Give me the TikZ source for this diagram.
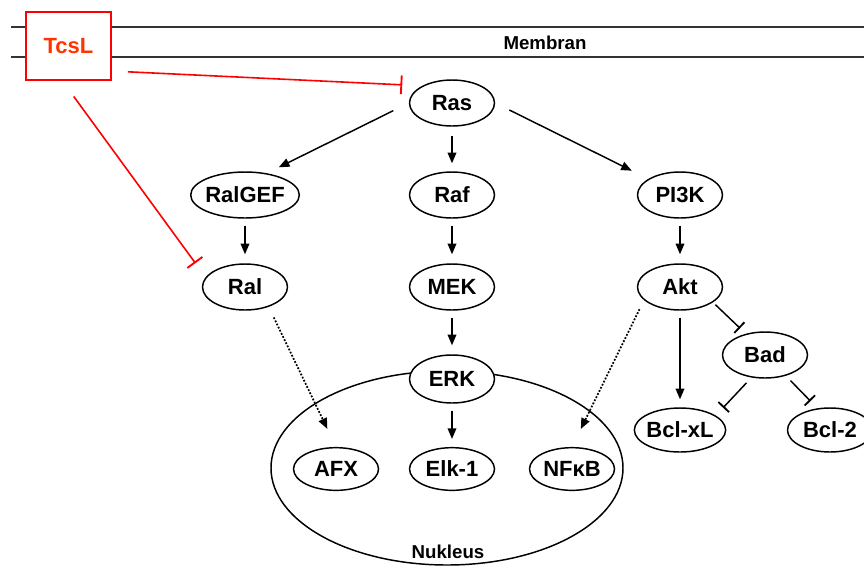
\documentclass[tikz,border=0pt]{standalone}
\usepackage{fontspec}
\setmainfont{Liberation Sans}
\usetikzlibrary{shapes.geometric,arrows.meta}

\definecolor{tcsred}{RGB}{255,0,0}
\definecolor{tcstext}{RGB}{255,51,0}

\begin{document}
\begin{tikzpicture}[x=0.75pt,y=-0.75pt,
  prot/.style={draw,ellipse,fill=white,line width=1.1pt,inner xsep=-1pt,inner ysep=0pt,
    minimum width=63.75pt,minimum height=34.5pt,font=\fontsize{16.5}{19}\selectfont\bfseries},
  act/.style={line width=1.1pt,-{Triangle[length=8pt,width=6.5pt]}},
  weak/.style={act,line width=1.3pt,dash pattern=on 1.3pt off 1.3pt},
  inh/.style={line width=1.1pt,-{Bar[width=11pt,line width=1.4pt]}},
  toxin/.style={line width=1.2pt,draw=tcsred,-{Bar[width=14pt,line width=1.4pt]}},
  lbl/.style={font=\fontsize{14}{17}\selectfont\bfseries}]
\useasboundingbox (0,0) rectangle (864,565);

\draw [line width=0.8pt,black!80] (11,27) -- (864,27);

\draw [line width=0.8pt,black!80] (11,57) -- (864,57);

\node [lbl] at (545,43) (membran) {Membran};

\node [draw=tcsred,line width=1.3pt,fill=white,minimum width=63.75pt,minimum height=51pt,
  text=tcstext,font=\fontsize{16.5}{19}\selectfont\bfseries] at (68.5,46) (tcsl) {TcsL};

\node [draw,ellipse,line width=1.1pt,minimum width=264pt,minimum height=145.5pt] at (447,468) (nucleus) {};

\node [lbl] at (448,552) (nukleus) {Nukleus};

\node [prot] at (452,103) (ras) {Ras};

\node [prot,minimum width=78pt] at (245,195) (ralgef) {RalGEF};
\node [prot] at (452,195) (raf) {Raf};
\node [prot] at (680,195) (pi3k) {PI3K};

\node [prot] at (245,287) (ral) {Ral};
\node [prot] at (452,287) (mek) {MEK};
\node [prot] at (680,287) (akt) {Akt};

\node [prot,minimum height=36pt] at (452,379) (erk) {ERK};
\node [prot] at (765,355) (bad) {Bad};

\node [prot,minimum height=33pt] at (680,430) (bclxl) {Bcl-xL};
\node [prot,minimum height=33pt] at (830,430) (bcltwo) {Bcl-2};

\node [prot,minimum height=32pt] at (336,469) (afx) {AFX};
\node [prot,minimum height=32pt] at (452,469) (elk) {Elk-1};
\node [prot,minimum height=32pt] at (572,469) (nfkb) {NFκB};

\draw [toxin,shorten <=12pt,shorten >=15pt] (tcsl.-30) -- (ras.150);

\draw [toxin,shorten <=14.5pt,shorten >=13pt] (tcsl.-100) -- (ral.166);

\draw [act,shorten <=13pt,shorten >=10pt] (ras.west) -- (ralgef.45);
\draw [act,shorten <=6.75pt,shorten >=6pt] (ras) -- (raf);
\draw [act,shorten <=11.8pt,shorten >=13.8pt] (ras.east) -- (pi3k.153);

\draw [act,shorten <=5.25pt,shorten >=6.75pt] (ralgef) -- (ral);
\draw [act,shorten <=5.25pt,shorten >=6.75pt] (raf) -- (mek);
\draw [act,shorten <=5.25pt,shorten >=6.75pt] (pi3k) -- (akt);

\draw [act,shorten <=5.25pt,shorten >=6.75pt] (mek) -- (erk);
\draw [act,shorten <=5.25pt,shorten >=6pt] (erk) -- (elk);

\draw [weak,shorten <=8.8pt,shorten >=15pt] (ral.-40) -- (afx.north);
\draw [weak,shorten <=7.6pt,shorten >=15pt] (akt.200) -- (nfkb.north);

\draw [act,shorten <=5.25pt,shorten >=6pt] (akt) -- (bclxl);
\draw [inh,shorten <=2.5pt,shorten >=6pt] (akt.-25) -- (bad.132);
\draw [inh,shorten <=5.5pt,shorten >=8pt] (bad.239) -- (bclxl.22);
\draw [inh,shorten <=5pt,shorten >=7.5pt] (bad.-45) -- (bcltwo.120);
\end{tikzpicture}
\end{document}
